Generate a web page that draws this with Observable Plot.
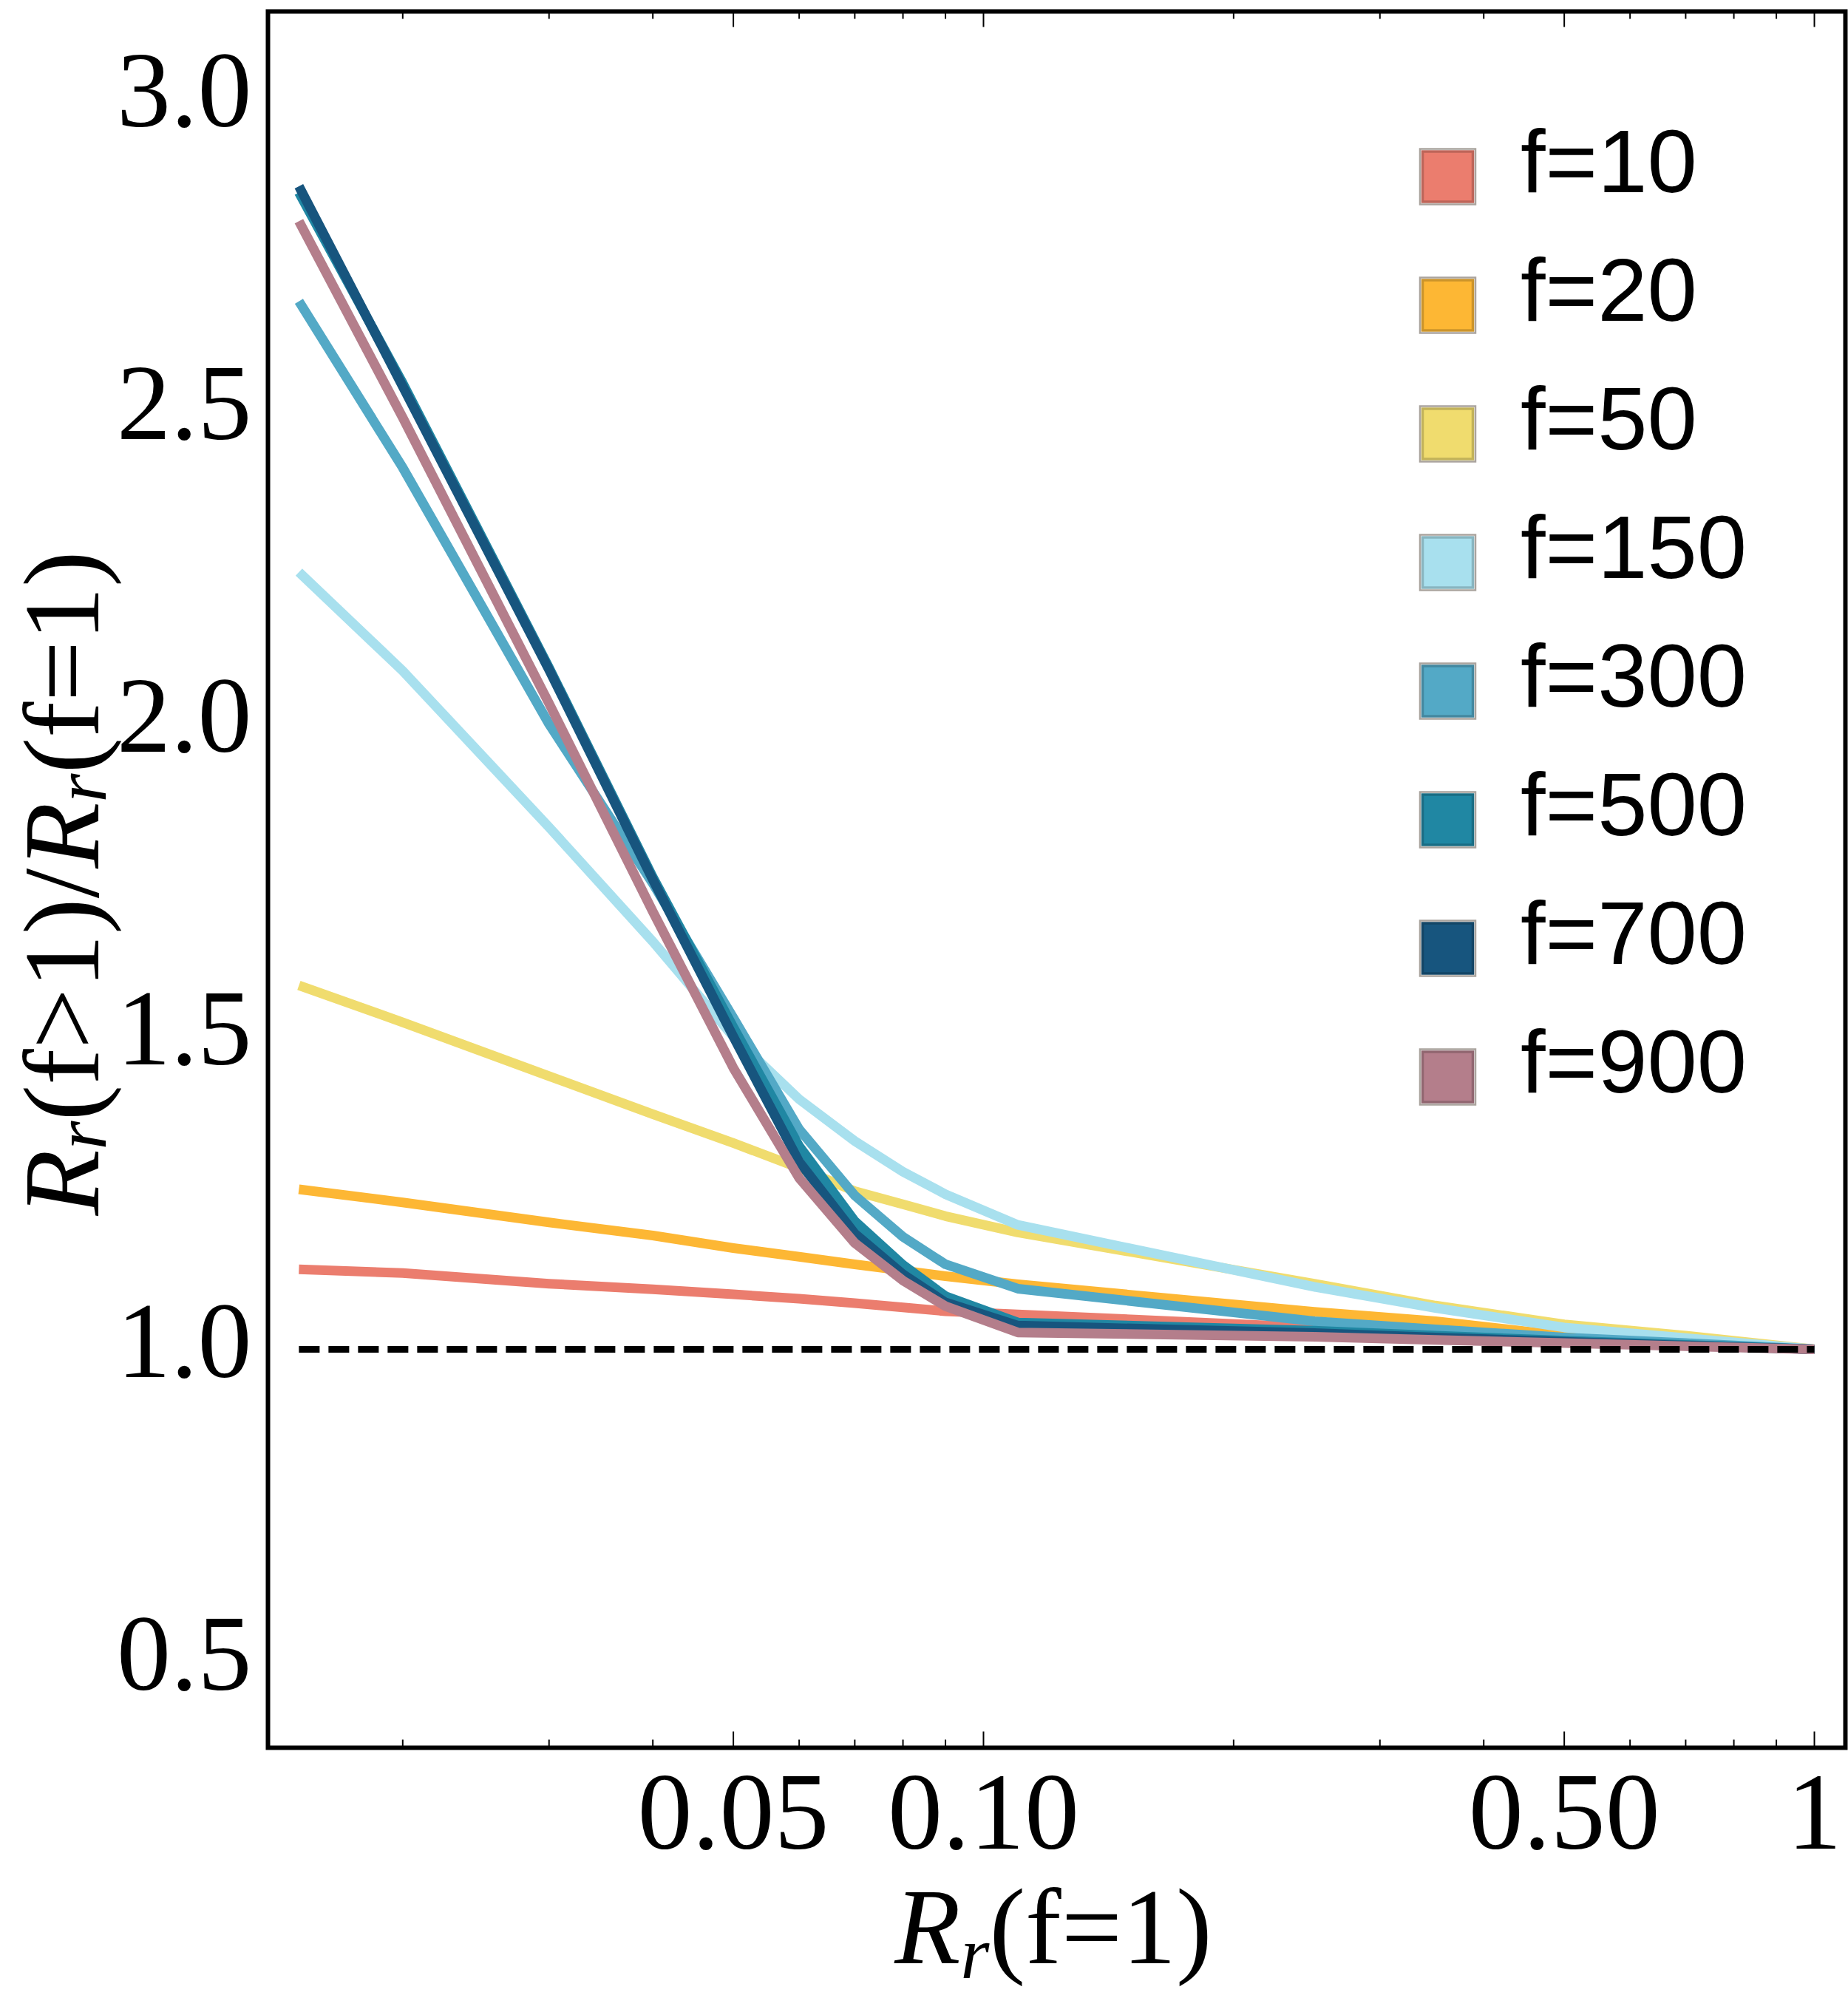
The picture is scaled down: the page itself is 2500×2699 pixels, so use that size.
<!DOCTYPE html>
<html>
<head>
<meta charset="utf-8">
<script src="https://cdn.jsdelivr.net/npm/d3@7"></script>
<script src="https://cdn.jsdelivr.net/npm/@observablehq/plot@0.6"></script>
<style>
  html, body { margin: 0; padding: 0; background: #ffffff; }
  #chart svg { display: block; }
</style>
</head>
<body>
<div id="chart"></div>
<script>
// ---- data ----
const xValues = [0.015, 0.02, 0.03, 0.04, 0.05, 0.06, 0.07, 0.08, 0.09, 0.11, 0.25, 0.35, 0.5, 0.7, 1];
const seriesNames = ["f=10", "f=20", "f=50", "f=150", "f=300", "f=500", "f=700", "f=900"];
const seriesColors = ["#EB7D6E", "#FDB734", "#F0DC6E", "#A8E0EE", "#53A9C6", "#2087A3", "#17557E", "#B47E8B"];
const f10  = [1.128, 1.122, 1.105, 1.096, 1.088, 1.081, 1.074, 1.067, 1.061, 1.056, 1.035, 1.024, 1.015, 1.007, 1.0];
const f20  = [1.256, 1.235, 1.203, 1.182, 1.162, 1.148, 1.136, 1.126, 1.117, 1.104, 1.060, 1.045, 1.022, 1.009, 1.0];
const f50  = [1.582, 1.523, 1.437, 1.376, 1.330, 1.290, 1.253, 1.232, 1.213, 1.187, 1.105, 1.070, 1.040, 1.022, 1.0];
const f150 = [2.243, 2.085, 1.835, 1.652, 1.500, 1.400, 1.333, 1.284, 1.248, 1.199, 1.100, 1.066, 1.035, 1.018, 1.0];
const f300 = [2.676, 2.410, 2.000, 1.745, 1.530, 1.352, 1.246, 1.180, 1.136, 1.097, 1.045, 1.032, 1.019, 1.010, 1.0];
const f500 = [2.850, 2.545, 2.090, 1.755, 1.515, 1.325, 1.205, 1.135, 1.085, 1.043, 1.030, 1.022, 1.014, 1.007, 1.0];
const f700 = [2.860, 2.540, 2.087, 1.751, 1.500, 1.300, 1.185, 1.120, 1.075, 1.038, 1.026, 1.019, 1.012, 1.006, 1.0];
const f900 = [2.804, 2.490, 2.033, 1.700, 1.450, 1.274, 1.170, 1.110, 1.069, 1.027, 1.020, 1.015, 1.010, 1.005, 1.0];
const seriesValues = [f10, f20, f50, f150, f300, f500, f700, f900];
const referenceX = [0.015, 1];
const referenceY = [1, 1];
const xMajorTicks = [0.05, 0.1, 0.5, 1];
const xMinorTicks = [0.02, 0.03, 0.04, 0.06, 0.07, 0.08, 0.09, 0.2, 0.3, 0.4, 0.6, 0.7, 0.8, 0.9];
const yTicks = [0.5, 1.0, 1.5, 2.0, 2.5, 3.0];

// ---- layout ----
const W = 2500, H = 2699;
const mL = 362, mR = 4, mT = 15, mB = 335;
const plotH = H - mT - mB;
const serif = "'Liberation Serif', 'Times New Roman', serif";
const sans = "'Liberation Sans', Arial, sans-serif";

const table = seriesNames.flatMap((name, i) =>
  seriesValues[i].map((v, j) => ({x: xValues[j], y: v, series: name})));
const refLine = referenceX.map((x, i) => ({x, y: referenceY[i]}));

const chart = Plot.plot({
  width: W,
  height: H,
  marginLeft: mL,
  marginRight: mR,
  marginTop: mT,
  marginBottom: mB,
  style: {background: "#ffffff", fontFamily: serif, color: "#000"},
  x: {type: "log", domain: [0.013767, 1.0898], label: null},
  y: {domain: [0.3629, 3.1395], label: null},
  color: {domain: seriesNames, range: seriesColors},
  marks: [
    Plot.line(table, {x: "x", y: "y", z: "series", stroke: "series",
      strokeWidth: 13, strokeLinecap: "butt", strokeLinejoin: "round"}),
    Plot.line(refLine, {x: "x", y: "y", stroke: "#000", strokeWidth: 9,
      strokeDasharray: "28,12", strokeLinecap: "butt"}),
    // inward frame ticks (bottom and top)
    Plot.tickX(xMajorTicks, {x: d => d, insetTop: plotH - 21.5, stroke: "#000", strokeWidth: 2}),
    Plot.tickX(xMinorTicks, {x: d => d, insetTop: plotH - 10.5, stroke: "#000", strokeWidth: 2}),
    Plot.tickX(xMajorTicks, {x: d => d, insetBottom: plotH - 21.5, stroke: "#000", strokeWidth: 2}),
    Plot.tickX(xMinorTicks, {x: d => d, insetBottom: plotH - 10.5, stroke: "#000", strokeWidth: 2}),
    Plot.axisX({ticks: xMajorTicks, tickSize: 0, tickPadding: 31,
      tickFormat: d => d === 1 ? "1" : d3.format(".2f")(d),
      fontSize: 148, fontFamily: serif, label: null}),
    Plot.axisY({ticks: yTicks, tickSize: 0, tickPadding: 22, dy: -9,
      tickFormat: d3.format(".1f"), fontSize: 146, fontFamily: serif, label: null}),
    Plot.frame({stroke: "#000", strokeWidth: 6})
  ]
});

document.getElementById("chart").appendChild(chart);

const svg = d3.select(chart);

// x axis title: R_r(f=1)
const xt = svg.append("text")
  .attr("x", 1425).attr("y", 2656)
  .attr("text-anchor", "middle")
  .attr("font-family", serif).attr("font-size", 146).attr("fill", "#000");
xt.append("tspan").attr("font-style", "italic").text("R");
xt.append("tspan").attr("font-style", "italic").attr("font-size", 100).attr("dy", 20).text("r");
xt.append("tspan").attr("dy", -20).text("(f=1)");

// y axis title: R_r(f>1)/R_r(f=1)
const yt = svg.append("text")
  .attr("transform", "translate(133,1195) rotate(-90)")
  .attr("text-anchor", "middle")
  .attr("font-family", serif).attr("font-size", 146).attr("fill", "#000");
yt.append("tspan").attr("font-style", "italic").text("R");
yt.append("tspan").attr("font-style", "italic").attr("font-size", 100).attr("dy", 10).text("r");
yt.append("tspan").attr("dy", -10).text("(f>1)/");
yt.append("tspan").attr("font-style", "italic").text("R");
yt.append("tspan").attr("font-style", "italic").attr("font-size", 100).attr("dy", 10).text("r");
yt.append("tspan").attr("dy", -10).text("(f=1)");

// legend inside the frame (top right)
const lg = svg.append("g").attr("text-anchor", "start");
seriesNames.forEach((name, i) => {
  const c = seriesColors[i];
  const cy = 239 + 174 * i;
  lg.append("rect")
    .attr("x", 1921).attr("y", cy - 37.5).attr("width", 75).attr("height", 75)
    .attr("fill", "none").attr("stroke", "#aaa49e").attr("stroke-width", 2.5);
  lg.append("rect")
    .attr("x", 1924.5).attr("y", cy - 34).attr("width", 68).attr("height", 68)
    .attr("fill", c).attr("stroke", d3.color(c).darker(0.6).formatHex()).attr("stroke-width", 3.5);
  lg.append("text")
    .attr("x", 2057).attr("y", cy + 21)
    .attr("text-anchor", "start")
    .attr("font-family", sans).attr("font-size", 121).attr("fill", "#000")
    .text(name);
});
</script>
</body>
</html>
